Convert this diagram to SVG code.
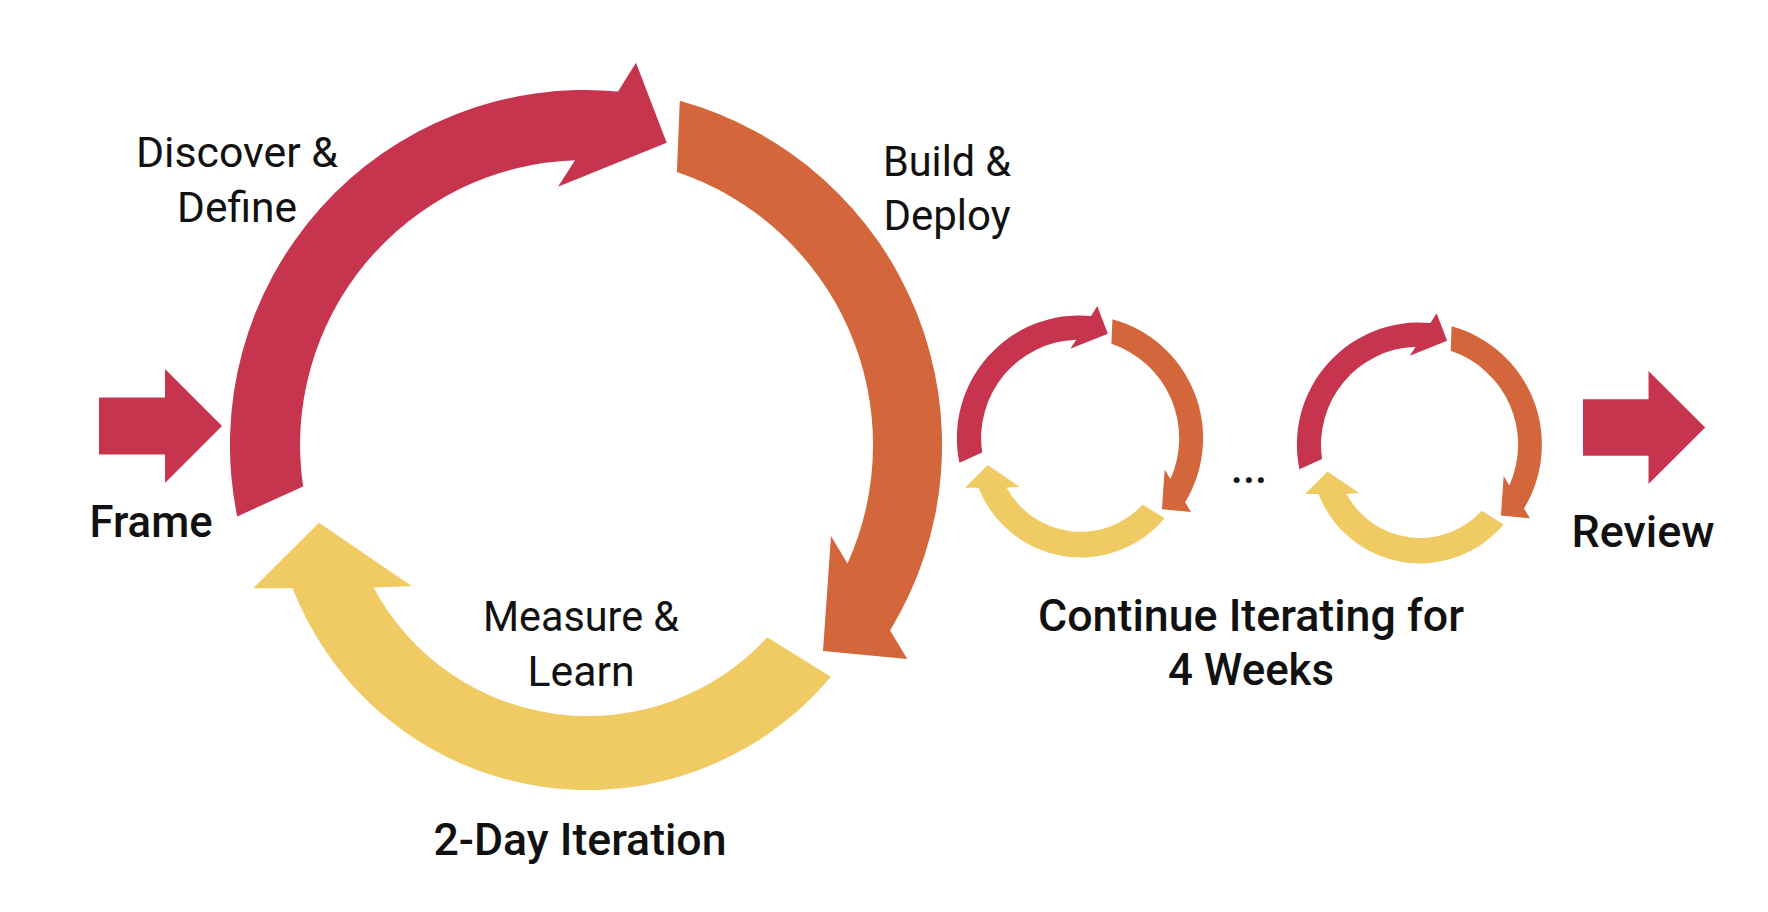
<svg xmlns="http://www.w3.org/2000/svg" xmlns:xlink="http://www.w3.org/1999/xlink" width="1768" height="912" viewBox="0 0 1768 912">
<style>
.red{fill:#C7344E}
.orange{fill:#D3663A}
.yellow{fill:#F0CA62}
.lbl{font-family:Roboto,"Liberation Sans",sans-serif;font-size:42.5px;fill:#111;text-anchor:middle}
.bold{font-family:Roboto,"Liberation Sans",sans-serif;font-size:43.5px;font-weight:500;fill:#111;text-anchor:middle}
</style>
<defs>
<g id="cycleShape">
<path class="red" d="M237.2,516.4 A355,355 0 0 1 618,91.5 L636,62.7 L666.7,142.7 L558,186.7 L575,160.2 A285,285 0 0 0 303.1,486.6 Z"/>
<path class="orange" d="M679.8,100.8 A357,357 0 0 1 890.1,630.5 L907.3,659 L823,651 L831,536 L847.5,563.5 A288,288 0 0 0 676.9,172 Z"/>
<path class="yellow" d="M830.8,676.8 A317,317 0 0 1 292.6,588.2 L253.3,588.3 L319,522.7 L411.7,586 L373.6,587.5 A243,243 0 0 0 767.2,637.2 Z"/>
</g>
<path id="blockArrow" d="M0,-28.5 L66,-28.5 L66,-57 L123,0 L66,57 L66,28.5 L0,28.5 Z"/>
</defs>
<rect width="1768" height="912" fill="#fff"/>
<g id="connectors">
<use id="frame-arrow" href="#blockArrow" class="red" transform="translate(99,426)"/>
<use id="review-arrow" href="#blockArrow" class="red" transform="translate(1583,427.5) scale(0.993)"/>
</g>
<g id="iteration-main">
<use href="#cycleShape"/>
</g>
<g id="iteration-small-1">
<use href="#cycleShape" transform="translate(877.4,284.3) scale(0.3457)"/>
</g>
<g id="iteration-small-2">
<use href="#cycleShape" transform="translate(1217.8,291.6) scale(0.344)"/>
</g>
<g id="label-discover"><text class="lbl" x="237" y="167" textLength="202" lengthAdjust="spacingAndGlyphs">Discover &amp;</text><text class="lbl" x="237" y="222" textLength="120" lengthAdjust="spacingAndGlyphs">Define</text></g>
<g id="label-build"><text class="lbl" x="947" y="176" textLength="128" lengthAdjust="spacingAndGlyphs">Build &amp;</text><text class="lbl" x="947" y="230" textLength="127" lengthAdjust="spacingAndGlyphs">Deploy</text></g>
<g id="label-measure"><text class="lbl" x="581" y="631" textLength="196" lengthAdjust="spacingAndGlyphs">Measure &amp;</text><text class="lbl" x="581" y="686" textLength="107" lengthAdjust="spacingAndGlyphs">Learn</text></g>
<g id="label-frame"><text class="bold" x="151" y="537" textLength="123" lengthAdjust="spacingAndGlyphs">Frame</text></g>
<g id="label-review"><text class="bold" x="1643" y="547" textLength="143" lengthAdjust="spacingAndGlyphs">Review</text></g>
<g id="label-iteration"><text class="bold" x="580" y="855" textLength="293" lengthAdjust="spacingAndGlyphs">2-Day Iteration</text></g>
<g id="label-continue"><text class="bold" x="1251" y="631" textLength="426" lengthAdjust="spacingAndGlyphs">Continue Iterating for</text><text class="bold" x="1251" y="685" textLength="166" lengthAdjust="spacingAndGlyphs">4 Weeks</text></g>
<g id="label-dots"><text class="bold" x="1249" y="483" font-weight="700">...</text></g>
</svg>
